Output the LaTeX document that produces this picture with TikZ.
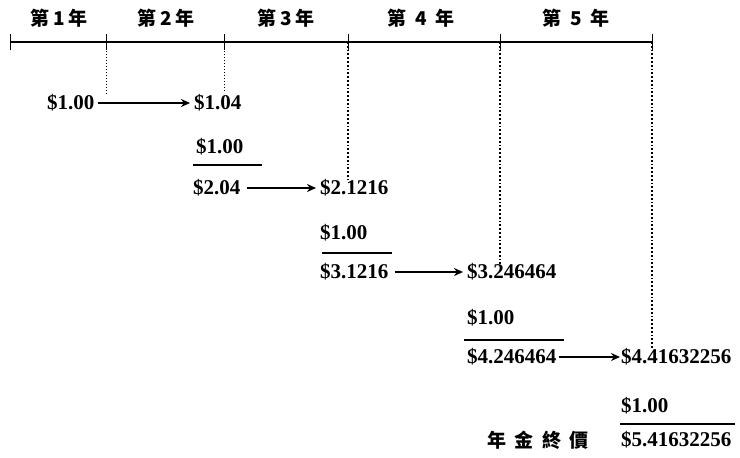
\documentclass[tikz,border=0pt]{standalone}
\usepackage{fontspec}
\setmainfont{Liberation Serif}
\newfontfamily\cjkfont{Noto Sans CJK TC}
\usetikzlibrary{arrows.meta}
\begin{document}
\begin{tikzpicture}[x=1pt,y=-1pt,
  val/.style={font=\fontsize{21}{22}\selectfont\bfseries, inner sep=0pt, anchor=west},
  yr/.style={font=\fontsize{19}{20}\selectfont\cjkfont\bfseries, inner sep=0pt},
  arr/.style={-{Stealth[length=9pt,width=8pt]}, line width=2.2pt},
  vdot/.style={dotted, line width=1.8pt},
  tick/.style={line width=0.8pt},
  uline/.style={line width=1.1pt}]
\useasboundingbox (0,0) rectangle (740,458);
% timeline
\coordinate (t0) at (10,42);
\coordinate (t1) at (106,42);
\coordinate (t2) at (224,42);
\coordinate (t3) at (348,42);
\coordinate (t4) at (500,42);
\coordinate (t5) at (652,42);
\draw[line width=1.1pt] (t0) -- (t5);
\foreach \t in {t0,t1,t2,t3,t4,t5}{
  \draw[tick] ([yshift=-8pt]\t) -- ([yshift=8pt]\t);
}
% year labels
\node[yr] (y1) at (59,18) {第\hspace{0.2em}1\hspace{0.2em}年};
\node[yr] (y2) at (166,18) {第\hspace{0.2em}2\hspace{0.2em}年};
\node[yr] (y3) at (286,18) {第\hspace{0.2em}3\hspace{0.2em}年};
\node[yr] (y4) at (421,18) {第\hspace{0.45em}4\hspace{0.45em}年};
\node[yr] (y5) at (576,18) {第\hspace{0.45em}5\hspace{0.45em}年};
% values
\node[val] (a1) at (47,103) {\$1.00};
\node[val] (b1) at (194,103) {\$1.04};
\node[val] (c1) at (196,147) {\$1.00};
\node[val] (a2) at (193,188) {\$2.04};
\node[val] (b2) at (320,188) {\$2.1216};
\node[val] (c2) at (320,233) {\$1.00};
\node[val] (a3) at (320,272) {\$3.1216};
\node[val] (b3) at (467,272) {\$3.246464};
\node[val] (c3) at (467,318) {\$1.00};
\node[val] (a4) at (467,357) {\$4.246464};
\node[val] (b4) at (621,357) {\$4.41632256};
\node[val] (c4) at (621,406) {\$1.00};
\node[val] (f) at (621,440) {\$5.41632256};
\node[yr, anchor=west] (lab) at (487,440) {年\hspace{0.45em}金\hspace{0.45em}終\hspace{0.45em}價};
% arrows
\draw[arr] ([xshift=3pt]a1.east) -- ([xshift=-4pt]b1.west);
\draw[arr] ([xshift=6pt]a2.east) -- ([xshift=-4pt]b2.west);
\draw[arr] ([xshift=6pt]a3.east) -- ([xshift=-4pt]b3.west);
\draw[arr] ([xshift=2pt]a4.east) -- ([xshift=-1pt]b4.west);
% underlines
\coordinate (u1a) at (193,165); \coordinate (u1b) at (262,165);
\coordinate (u2a) at (322,253); \coordinate (u2b) at (392,253);
\coordinate (u3a) at (464,340); \coordinate (u3b) at (564,340);
\coordinate (u4a) at (620,424); \coordinate (u4b) at (735,424);
\draw[uline] (u1a) -- (u1b);
\draw[uline] (u2a) -- (u2b);
\draw[uline] (u3a) -- (u3b);
\draw[uline] (u4a) -- (u4b);
% dotted drops
\coordinate (d1) at (106,95);
\coordinate (d2) at (224,93);
\coordinate (d3) at (348,180);
\coordinate (d4) at (500,265);
\coordinate (d5) at (652,348);
\draw[vdot, line width=1pt] (t1) -- (d1);
\draw[vdot, line width=1pt] (t2) -- (d2);
\draw[vdot] (t3) -- (d3);
\draw[vdot] (t4) -- (d4);
\draw[vdot] (t5) -- (d5);
\end{tikzpicture}
\end{document}
